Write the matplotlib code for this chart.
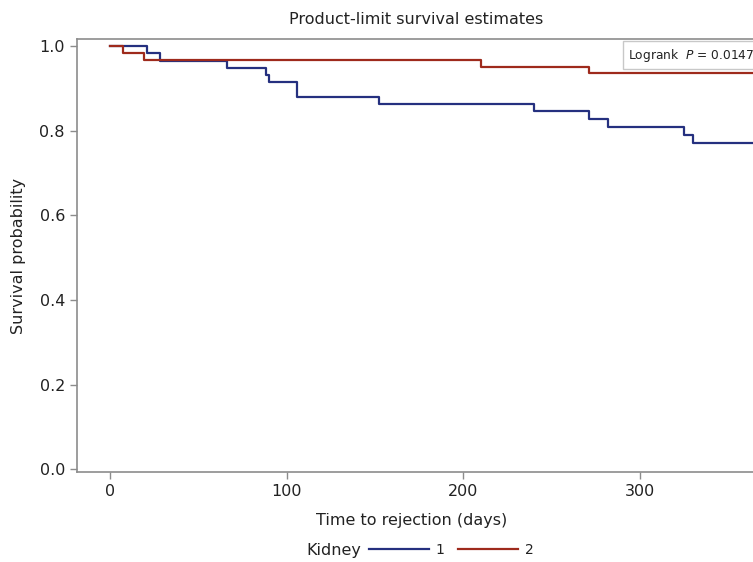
import matplotlib
matplotlib.use('Agg')
import matplotlib.pyplot as plt

# Kaplan-Meier step data
kidney1_times = [0, 21, 28, 66, 88, 90, 106, 152, 240, 271, 282, 325, 330, 420]
kidney1_surv = [1.0, 0.983, 0.966, 0.949, 0.932, 0.915, 0.881, 0.864, 0.847, 0.827, 0.809, 0.790, 0.772, 0.772]
kidney2_times = [0, 7, 19, 210, 271, 420]
kidney2_surv = [1.0, 0.984, 0.968, 0.952, 0.936, 0.936]

x_ticks = [0, 100, 200, 300]
y_ticks = [0.0, 0.2, 0.4, 0.6, 0.8, 1.0]

blue = '#25307f'
red = '#9e2a1c'
axis_grey = '#8c8c8c'
text_col = '#222222'

plt.rcParams['font.family'] = ['DejaVu Sans']

fig = plt.figure(figsize=(7.53, 5.62), dpi=100)
ax = fig.add_axes([0.1019, 0.160, 0.982, 0.7705])

ax.step(kidney1_times, kidney1_surv, where='post', color=blue, linewidth=1.6, label='1')
ax.step(kidney2_times, kidney2_surv, where='post', color=red, linewidth=1.6, label='2')

ax.set_xlim(-19, 400)
ax.set_ylim(-0.007, 1.017)
ax.set_xticks(x_ticks)
ax.set_yticks(y_ticks)
ax.set_yticklabels([f'{v:.1f}' for v in y_ticks])

for s in ax.spines.values():
    s.set_color(axis_grey)
    s.set_linewidth(1.2)
ax.tick_params(colors=axis_grey, labelcolor=text_col, labelsize=11.5, length=5, width=1)

ax.set_xlabel('Time to rejection (days)', fontsize=11.5, color=text_col)
ax.xaxis.set_label_coords((412 - 76.7) / (0.982 * 753), -0.095)
ax.set_ylabel('Survival probability', fontsize=11.5, color=text_col, labelpad=10)

fig.text(416 / 753, 1 - 20 / 562, 'Product-limit survival estimates', ha='center', va='center',
         fontsize=11.5, color=text_col)

# logrank box
fig.text(628 / 753, 1 - 55 / 562, r'Logrank  $\mathit{P}$ = 0.0147', ha='left', va='center',
         fontsize=8.8, color=text_col,
         bbox=dict(boxstyle='square,pad=0.45', facecolor='white', edgecolor='#c8c8c8', linewidth=1))

# bottom legend
fig.text(306 / 753, 1 - 550 / 562, 'Kidney', ha='left', va='center', fontsize=11.5, color=text_col)
fig.legend(loc='center left', bbox_to_anchor=(369 / 753, 1 - 550 / 562), ncol=2, frameon=False,
           handlelength=4.3, handletextpad=0.5, columnspacing=1.0, fontsize=10,
           labelcolor=text_col, borderaxespad=0, borderpad=0)

fig.savefig('out.png', dpi=100)
